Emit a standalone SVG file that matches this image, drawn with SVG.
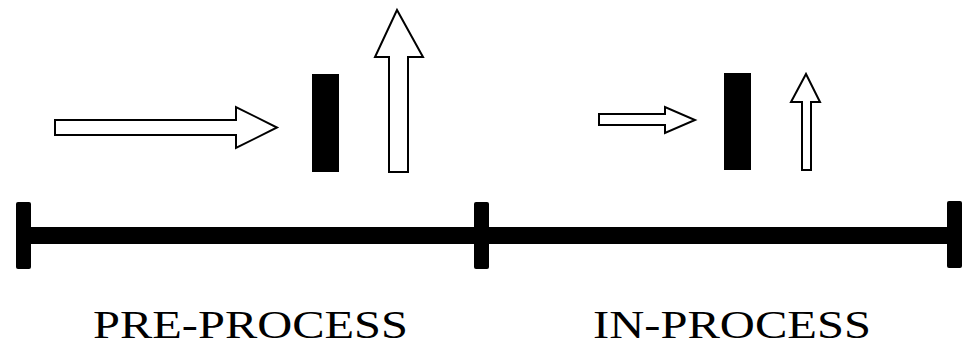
<svg xmlns="http://www.w3.org/2000/svg" width="971" height="350" viewBox="0 0 971 350">
<style>
.arrow{fill:#fff;stroke:#000;stroke-width:2;stroke-linejoin:miter}
.solid{fill:#000}
.label{font-family:"Liberation Serif","DejaVu Serif",serif;font-size:41px;fill:#000}
</style>
<rect width="971" height="350" fill="#fff"/>
<g id="pre-flow-arrow"><path class="arrow" d="M55,120 H236 V107 L277,127.5 L236,148 V135 H55 Z"/></g>
<g id="pre-barrier"><rect class="solid" x="312" y="74" width="27" height="98"/></g>
<g id="pre-up-arrow"><path class="arrow" d="M389,172 V57 H375 L397,10 L423,57 H408 V172 Z"/></g>
<g id="in-flow-arrow"><path class="arrow" d="M599,114 H665 V107 L695,120 L665,133 V125 H599 Z"/></g>
<g id="in-barrier"><rect class="solid" x="724" y="73" width="27" height="97"/></g>
<g id="in-up-arrow"><path class="arrow" d="M802,170 V102 H791 L806,74 L820,102 H811 V170 Z"/></g>
<g id="timeline">
<rect class="solid" x="16" y="227" width="946" height="17"/>
<rect class="solid" x="16" y="202" width="15" height="67" rx="2"/>
<rect class="solid" x="474" y="202" width="15" height="67" rx="2"/>
<rect class="solid" x="947" y="201" width="15" height="67" rx="2"/>
</g>
<g id="labels">
<text class="label" x="93" y="338" textLength="315" lengthAdjust="spacingAndGlyphs">PRE-PROCESS</text>
<text class="label" x="593" y="338" textLength="278" lengthAdjust="spacingAndGlyphs">IN-PROCESS</text>
</g>
</svg>
